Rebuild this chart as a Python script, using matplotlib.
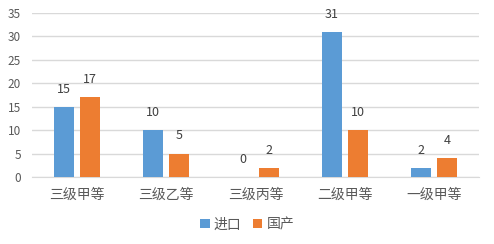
import matplotlib
matplotlib.use("Agg")
import matplotlib.pyplot as plt
import numpy as np

plt.rcParams['font.family'] = ['Noto Sans CJK SC', 'DejaVu Sans']

categories = ["三级甲等", "三级乙等", "三级丙等", "二级甲等", "一级甲等"]
imported = [15, 10, 0, 31, 2]
domestic = [17, 5, 2, 10, 4]
series_names = ["进口", "国产"]
yticks = [0, 5, 10, 15, 20, 25, 30, 35]

blue = "#5B9BD5"
orange = "#ED7D31"
grid_c = "#D9D9D9"
txt_c = "#595959"

fig = plt.figure(figsize=(4.94, 2.44), dpi=100)
ax = fig.add_axes([0.0648, 0.2746, 0.9048, 0.672])

x = np.arange(len(categories))
w = 0.224
off = 0.146
b1 = ax.bar(x - off, imported, w, color=blue, label=series_names[0], zorder=3)
b2 = ax.bar(x + off, domestic, w, color=orange, label=series_names[1], zorder=3)

for bars, vals in [(b1, imported), (b2, domestic)]:
    for r, v in zip(bars, vals):
        ax.annotate(str(v), (r.get_x() + r.get_width() / 2, v),
                    xytext=(0, 8), textcoords="offset points",
                    ha="center", va="bottom", fontsize=9, color="#404040")

ax.set_xlim(-0.5, len(categories) - 0.5)
ax.set_ylim(0, 35)
ax.set_yticks(yticks)
ax.set_xticks(x)
ax.set_xticklabels(categories, fontsize=10, color=txt_c)
ax.tick_params(axis='y', labelsize=8.5, labelcolor=txt_c, length=0, pad=8)
ax.tick_params(axis='x', length=0, pad=8)
ax.grid(axis='y', color=grid_c, linewidth=1, zorder=0)
for s in ["top", "right", "left"]:
    ax.spines[s].set_visible(False)
ax.spines["bottom"].set_color(grid_c)
ax.spines["bottom"].set_zorder(1)

fig.legend(handles=[b1, b2], loc="center", bbox_to_anchor=(0.5, 0.08),
           ncol=2, frameon=False, fontsize=10, labelcolor=txt_c,
           handlelength=0.7, handleheight=0.7, handletextpad=0.3,
           columnspacing=0.8)

fig.savefig("out.png", dpi=100)
